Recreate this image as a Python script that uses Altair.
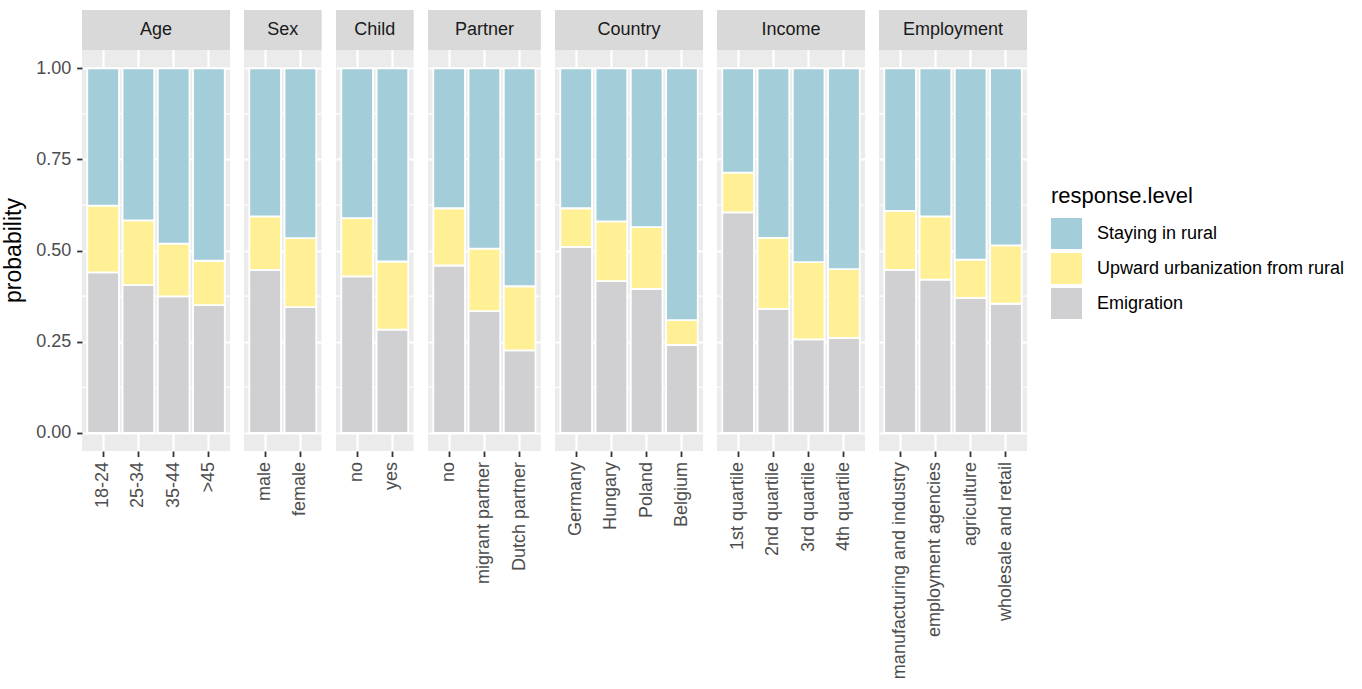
import altair as alt
import pandas as pd

# Predicted probabilities of each migration intention by respondent characteristic
panels = ["Age", "Sex", "Child", "Partner", "Country", "Income", "Employment"]

categories = {
    "Age": ["18-24", "25-34", "35-44", ">45"],
    "Sex": ["male", "female"],
    "Child": ["no", "yes"],
    "Partner": ["no", "migrant partner", "Dutch partner"],
    "Country": ["Germany", "Hungary", "Poland", "Belgium"],
    "Income": ["1st quartile", "2nd quartile", "3rd quartile", "4th quartile"],
    "Employment": ["manufacturing and industry", "employment agencies",
                   "agriculture", "wholesale and retail"],
}

emigration = {
    "Age": [0.440, 0.405, 0.374, 0.350],
    "Sex": [0.447, 0.345],
    "Child": [0.429, 0.283],
    "Partner": [0.459, 0.334, 0.226],
    "Country": [0.510, 0.416, 0.395, 0.241],
    "Income": [0.605, 0.340, 0.256, 0.260],
    "Employment": [0.447, 0.420, 0.370, 0.354],
}

upward = {
    "Age": [0.183, 0.178, 0.145, 0.122],
    "Sex": [0.147, 0.189],
    "Child": [0.160, 0.187],
    "Partner": [0.157, 0.171, 0.176],
    "Country": [0.106, 0.164, 0.169, 0.068],
    "Income": [0.109, 0.195, 0.212, 0.189],
    "Employment": [0.162, 0.174, 0.105, 0.160],
}

staying = {
    "Age": [0.377, 0.417, 0.481, 0.528],
    "Sex": [0.406, 0.466],
    "Child": [0.411, 0.530],
    "Partner": [0.384, 0.495, 0.598],
    "Country": [0.384, 0.420, 0.436, 0.691],
    "Income": [0.286, 0.465, 0.532, 0.551],
    "Employment": [0.391, 0.406, 0.525, 0.486],
}

levels = ["Staying in rural", "Upward urbanization from rural", "Emigration"]
level_colors = ["#a3cdd9", "#fff096", "#d0cfd1"]
stack_rank = {"Emigration": 0, "Upward urbanization from rural": 1, "Staying in rural": 2}

major_breaks = [0, 0.25, 0.5, 0.75, 1.0]
minor_breaks = [0.125, 0.375, 0.625, 0.875]

FONT = "Liberation Sans"
UNIT = 35.25          # pixels per category slot
PLOT_H = 441
Y_DOMAIN = [-0.05, 1.16]
STRIP_LO, STRIP_HI = 1.05, 1.16
PAD_LEFT, PAD_TOP = 2, 10

legend = alt.Legend(
    title="response.level", orient="none",
    legendX=969, legendY=176,
    symbolType="square", symbolSize=961, symbolStrokeWidth=0,
    rowPadding=4, labelFontSize=18, labelFont=FONT, labelColor="black",
    labelOffset=15, labelLimit=400,
    titleFontSize=22, titleFont=FONT, titleFontWeight="normal",
    titleColor="black", titlePadding=10, padding=0,
)


def panel(name, first):
    cats = categories[name]
    rows = []
    for series, lvl in ((emigration, "Emigration"),
                        (upward, "Upward urbanization from rural"),
                        (staying, "Staying in rural")):
        for cat, p in zip(cats, series[name]):
            rows.append({"cat": cat, "level": lvl, "prob": p, "rank": stack_rank[lvl]})
    df = pd.DataFrame(rows)
    w = UNIT * (len(cats) + 0.2)

    yscale = alt.Scale(domain=Y_DOMAIN, nice=False, zero=False)
    if first:
        yaxis = alt.Axis(
            values=major_breaks, format=".2f", title="probability", grid=True,
            domain=False, tickSize=5.3, tickWidth=1.8, tickColor="#333333",
            labelFontSize=18, labelColor="#4d4d4d", labelPadding=6,
            titleFontSize=23, titleFontWeight="normal", titleColor="black",
            titlePadding=10, titleY=240,
        )
    else:
        yaxis = alt.Axis(values=major_breaks, grid=True, labels=False, ticks=False,
                         domain=False, title=None, minExtent=0, maxExtent=0)

    xaxis = alt.Axis(
        title=None, labelAngle=-90, grid=True, domain=False,
        tickSize=5.5, tickWidth=1.8, tickColor="#333333",
        labelFontSize=18, labelColor="#4d4d4d", labelPadding=5, labelLimit=300,
    )

    minor = alt.Chart(pd.DataFrame({"v": minor_breaks})).mark_rule(
        color="white", strokeWidth=1.1
    ).encode(y=alt.Y("v:Q", scale=yscale, axis=yaxis))

    bars = alt.Chart(df).mark_bar(stroke="white", strokeWidth=1.8).encode(
        x=alt.X("cat:N", sort=cats, axis=xaxis,
                scale=alt.Scale(paddingInner=0.1, paddingOuter=0.15)),
        y=alt.Y("prob:Q", stack="zero", scale=yscale, axis=yaxis),
        color=alt.Color("level:N", scale=alt.Scale(domain=levels, range=level_colors),
                        legend=legend),
        order=alt.Order("rank:Q", sort="ascending"),
    )

    strip_df = pd.DataFrame({"panel": [name]})
    strip = alt.Chart(strip_df).mark_rect(fill="#d9d9d9").encode(
        x=alt.value(0), x2=alt.value(w),
        y=alt.YDatum(STRIP_HI, axis=yaxis), y2=alt.datum(STRIP_LO),
    )
    strip_text = alt.Chart(strip_df).mark_text(
        font=FONT, fontSize=18, color="#1a1a1a", align="center", baseline="middle"
    ).encode(
        x=alt.value(w / 2), y=alt.YDatum((STRIP_LO + STRIP_HI) / 2, axis=yaxis),
        text="panel:N",
    )

    return alt.layer(minor, bars, strip, strip_text).properties(width=w, height=PLOT_H)


chart = alt.hconcat(
    *[panel(n, i == 0) for i, n in enumerate(panels)], spacing=12
).properties(
    padding={"left": PAD_LEFT, "top": PAD_TOP, "right": 0, "bottom": 0}
).configure_view(
    stroke=None, fill="#ebebeb"
).configure_axis(
    gridColor="white", gridWidth=2.2, labelFont=FONT, titleFont=FONT
)

chart.save("out.html", embed_options={"renderer": "svg", "actions": False})
